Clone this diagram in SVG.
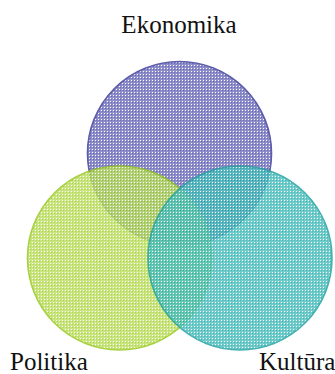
<svg xmlns="http://www.w3.org/2000/svg" width="335" height="374" viewBox="0 0 335 374">
<defs>
<pattern id="pE" width="3" height="3" patternUnits="userSpaceOnUse">
<rect width="3" height="3" fill="#7676c0"/>
<rect x="2" y="2" width="1" height="1" fill="#ffffff"/>
<rect x="0" y="0" width="1" height="1" fill="#4848a4"/>
</pattern>
<pattern id="pP" width="3" height="3" patternUnits="userSpaceOnUse">
<rect width="3" height="3" fill="#bce064"/>
<rect x="2" y="2" width="1" height="1" fill="#ffffff"/>
<rect x="0" y="0" width="1" height="1" fill="#9cca2c"/>
</pattern>
<pattern id="pK" width="3" height="3" patternUnits="userSpaceOnUse">
<rect width="3" height="3" fill="#50c2c0"/>
<rect x="2" y="2" width="1" height="1" fill="#ffffff"/>
<rect x="0" y="0" width="1" height="1" fill="#22a6a4"/>
</pattern>
<style>
.lbl{font-family:'Liberation Serif','Times New Roman',serif;font-size:25px;fill:#111}
.c{stroke-width:1.6;opacity:0.82}
</style>
</defs>
<g id="ekonomika">
<circle class="c" cx="179.5" cy="153.5" r="92" fill="url(#pE)" stroke="#3a3a9a"/>
<text class="lbl" x="179" y="33" text-anchor="middle" font-family="Liberation Serif, serif">Ekonomika</text>
</g>
<g id="politika">
<circle class="c" cx="119.5" cy="258" r="92" fill="url(#pP)" stroke="#96c81a"/>
<text class="lbl" x="10" y="370" font-family="Liberation Serif, serif">Politika</text>
</g>
<g id="kultura">
<circle class="c" cx="240" cy="258" r="92" fill="url(#pK)" stroke="#1fa0a0"/>
<text class="lbl" x="259" y="370" font-family="Liberation Serif, serif">Kultūra</text>
</g>
<g id="connectors"></g>
</svg>
